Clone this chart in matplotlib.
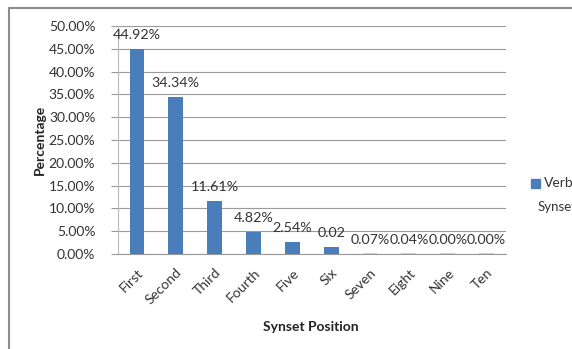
import numpy as np
import matplotlib
matplotlib.use('Agg')
import matplotlib.pyplot as plt
from matplotlib.patches import Rectangle
from matplotlib.lines import Line2D

# ------------------------------------------------

positions = ['First', 'Second', 'Third', 'Fourth', 'Five', 'Six', 'Seven', 'Eight', 'Nine', 'Ten']
verb = [44.92, 34.34, 11.61, 4.82, 2.54, 1.55, 0.07, 0.04, 0.00, 0.00]
labels = ['44.92%', '34.34%', '11.61%', '4.82%', '2.54%', '0.02', '0.07%', '0.04%', '0.00%', '0.00%']
yticks = [0, 5, 10, 15, 20, 25, 30, 35, 40, 45, 50]

plt.rcParams['font.family'] = ['Lato', 'DejaVu Sans']

W, H = 572, 349
fig = plt.figure(figsize=(W / 100, H / 100), dpi=100)

def fx(px): return px / W
def fy(py): return 1 - py / H

ax = fig.add_axes([fx(117.5), fy(254), fx(506) - fx(117.5), fy(26) - fy(254)])

blue = '#4A7EBB'
x = np.arange(len(positions))
ax.bar(x, verb, width=0.38, color=blue, zorder=3)
# very small values still show a hairline at the base
ax.bar(x[6:], [0.25] * 4, width=0.38, color='#c9d3e0', zorder=2)

for i, (v, s) in enumerate(zip(verb, labels)):
    ax.annotate(s, (i, v), xytext=(0, 8), textcoords='offset pixels',
                ha='center', va='bottom', fontsize=10.3, color='#333333')

ax.set_xlim(-0.5, len(positions) - 0.5)
ax.set_ylim(0, 50)
ax.set_yticks(yticks)
ax.set_yticklabels(['{:.2f}%'.format(t) for t in yticks], fontsize=10, color='#333333')
ax.set_xticks(x)
ax.set_xticklabels(positions, rotation=45, ha='right', rotation_mode='anchor',
                   fontsize=10, color='#333333')
ax.tick_params(axis='y', length=5, color='#999999', pad=11)
ax.tick_params(axis='x', length=0, pad=9)

ax.grid(axis='y', color='#9a9a9a', linewidth=0.8, zorder=0)
for side in ['top', 'right']:
    ax.spines[side].set_visible(False)
ax.spines['left'].set_color('#bbbbbb')
ax.spines['bottom'].set_color('#999999')

fig.text(fx(40), fy(140), 'Percentage', rotation=90, ha='center', va='center',
         fontsize=10, fontweight='bold', color='#222222')
fig.text(fx(311), fy(327), 'Synset Position', ha='center', va='center',
         fontsize=10, fontweight='bold', color='#222222')

# legend, cut off by the image edge like the original
fig.patches.append(Rectangle((fx(531), fy(188)), fx(9), fy(179) - fy(188),
                             transform=fig.transFigure, color=blue))
fig.text(fx(544), fy(183.5), 'Verb', ha='left', va='center', fontsize=10, color='#333333')
fig.text(fx(538), fy(207), 'Synset', ha='left', va='center', fontsize=9.5, color='#333333')

# outer chart frame
fig.lines.append(Line2D([fx(9), fx(9), fx(580)], [fy(360), fy(8), fy(8)],
                        transform=fig.transFigure, color='#8c8c8c', linewidth=1.5))

fig.savefig('out.png', dpi=100)
